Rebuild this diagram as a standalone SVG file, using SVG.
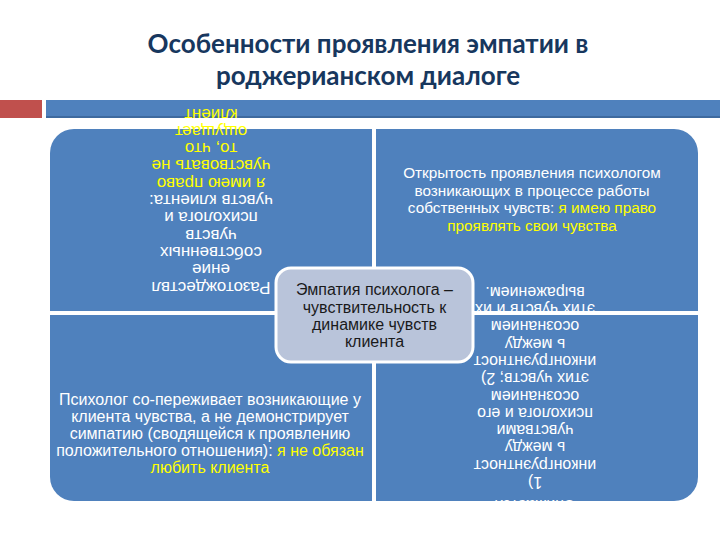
<svg xmlns="http://www.w3.org/2000/svg" width="720" height="540" viewBox="0 0 720 540">
<style>
.title{font-family:Lato,"Liberation Sans",sans-serif;font-weight:bold;font-size:26px;fill:#17375E;text-anchor:middle}
.q{fill:#4F81BD}
.t{font-family:"Liberation Sans",Arial,sans-serif;font-size:15.3px;fill:#FFFFFF;text-anchor:middle}
.tl{font-size:17px}
.bl{font-size:16px}
.br{font-size:16px}
.y{fill:#FFFF00}
.c{font-family:"Liberation Sans",Arial,sans-serif;font-size:16px;fill:#1A1A1A;text-anchor:middle}
</style>
<rect width="720" height="540" fill="#FFFFFF"/>
<g id="title">
<text class="title" x="368" y="53">Особенности проявления эмпатии в</text>
<text class="title" x="368" y="85">роджерианском диалоге</text>
</g>
<g id="header-bar">
<rect x="0" y="100" width="42" height="18" fill="#C0504D"/>
<rect x="46" y="100" width="674" height="18" fill="#4F81BD"/>
<rect x="46" y="116" width="674" height="2" fill="#3E6A9F"/>
</g>
<g id="quadrant-top-left">
<path class="q" d="M50,311 V153 A24,24 0 0 1 74,129 H372 V311 Z"/>
</g>
<g id="quadrant-top-right">
<path class="q" d="M376,129 H674 A24,24 0 0 1 698,153 V311 H376 Z"/>
</g>
<g id="quadrant-bottom-left">
<path class="q" d="M50,315 H372 V501 H74 A24,24 0 0 1 50,477 Z"/>
</g>
<g id="quadrant-bottom-right">
<path class="q" d="M376,315 H698 V477 A24,24 0 0 1 674,501 H376 Z"/>
</g>
<g id="text-top-left" transform="rotate(180 211 400)">
<text class="t tl"><tspan x="211" y="518.5">Разотождествл</tspan><tspan x="211" dy="17.3">ение</tspan><tspan x="211" dy="17.3">собственных</tspan><tspan x="211" dy="17.3">чувств</tspan><tspan x="211" dy="17.3">психолога и</tspan><tspan x="211" dy="17.3">чувств клиента:</tspan><tspan class="y" x="211" dy="17.3">я имею право</tspan><tspan class="y" x="211" dy="17.3">чувствовать не</tspan><tspan class="y" x="211" dy="17.3">то, что</tspan><tspan class="y" x="211" dy="17.3">ощущает</tspan><tspan class="y" x="211" dy="17.3">клиент</tspan></text>
</g>
<g id="text-top-right">
<text class="t"><tspan x="532" y="178">Открытость проявления психологом</tspan><tspan x="532" y="195.5">возникающих в процессе работы</tspan><tspan x="532" y="213">собственных чувств: <tspan class="y">я имею право</tspan></tspan><tspan class="y" x="532" y="230.5">проявлять свои чувства</tspan></text>
</g>
<g id="text-bottom-left">
<text class="t bl"><tspan x="210" y="405">Психолог со-переживает возникающие у</tspan><tspan x="210" y="422">клиента чувства, а не демонстрирует</tspan><tspan x="210" y="439">симпатию (сводящейся к проявлению</tspan><tspan x="210" y="456">положительного отношения): <tspan class="y">я не обязан</tspan></tspan><tspan class="y" x="210" y="473">любить клиента</tspan></text>
</g>
<g id="text-bottom-right" transform="rotate(180 535 400)">
<text class="t br"><tspan x="535" y="300">Снижается</tspan><tspan x="535" y="323">1)</tspan><tspan x="535" dy="17.3">инконгруэнтност</tspan><tspan x="535" dy="17.3">ь между</tspan><tspan x="535" dy="17.3">чувствами</tspan><tspan x="535" dy="17.3">психолога и его</tspan><tspan x="535" dy="17.3">осознанием</tspan><tspan x="535" dy="17.3">этих чувств; 2)</tspan><tspan x="535" dy="17.3">инконгруэнтност</tspan><tspan x="535" dy="17.3">ь между</tspan><tspan x="535" dy="17.3">осознанием</tspan><tspan x="535" dy="17.3">этих чувств и их</tspan><tspan x="535" dy="17.3">выражением.</tspan></text>
</g>
<g id="center-node">
<rect x="276" y="268" width="197" height="94" rx="15" ry="15" fill="#B9C4DA" stroke="#FFFFFF" stroke-width="3"/>
<text class="c"><tspan x="374.5" y="295">Эмпатия психолога –</tspan><tspan x="374.5" y="312.5">чувствительность к</tspan><tspan x="374.5" y="330">динамике чувств</tspan><tspan x="374.5" y="347">клиента</tspan></text>
</g>
</svg>
